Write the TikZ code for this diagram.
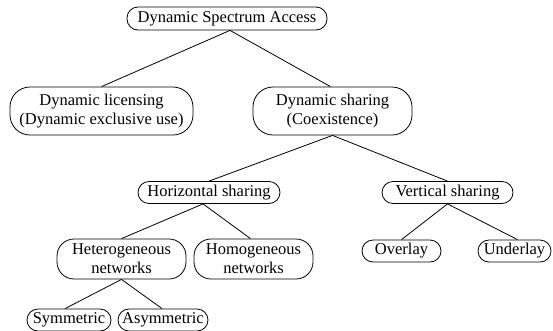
\documentclass[tikz,border=0pt]{standalone}
\usepackage{fontspec}
\setmainfont{Liberation Serif}
\newfontfamily\timesfont{Liberation Serif}
\begin{document}
\begin{tikzpicture}[x=1pt,y=-1pt,
  box/.style={draw,line width=0.8pt,align=center,inner sep=0pt,
    font=\timesfont\fontsize{16.5}{19}\selectfont},
  onebox/.style={box,rounded corners=11pt,minimum height=22pt},
  twobox/.style={box,rounded corners=20pt},
  netbox/.style={box,rounded corners=17pt,minimum height=40pt},
  link/.style={line width=0.8pt}]
\useasboundingbox (0,0) rectangle (553,330);
\node[onebox,minimum width=200pt,minimum height=23pt] (dsa) at (227,18.5) {Dynamic Spectrum Access};
\node[twobox,minimum width=183pt,minimum height=48pt] (lic) at (101.5,111) {Dynamic licensing\\(Dynamic exclusive use)};
\node[twobox,minimum width=159pt,minimum height=48pt] (shar) at (332.5,111) {Dynamic sharing\\(Coexistence)};
\node[onebox,minimum width=142pt] (hor) at (209,192.5) {Horizontal sharing};
\node[onebox,minimum width=131pt] (ver) at (447.5,192.5) {Vertical sharing};
\node[netbox,minimum width=129pt] (het) at (121.5,259) {Heterogeneous\\networks};
\node[netbox,minimum width=119pt] (hom) at (253.5,259) {Homogeneous\\networks};
\node[onebox,minimum width=79pt] (ovl) at (401.5,251) {Overlay};
\node[onebox,minimum width=73pt] (und) at (514.5,251) {Underlay};
\node[onebox,minimum width=84pt] (sym) at (69,320) {Symmetric};
\node[onebox,minimum width=90pt] (asym) at (163,320) {Asymmetric};
\draw[link] ([xshift=3pt]dsa.south) -- (lic.north);
\draw[link] ([xshift=3pt]dsa.south) -- ([xshift=-2pt]shar.north);
\draw[link] (shar.south) -- (hor.north);
\draw[link] (shar.south) -- (ver.north);
\draw[link] ([xshift=-6pt]hor.south) -- (het.north);
\draw[link] ([xshift=-6pt]hor.south) -- ([xshift=-3pt]hom.north);
\draw[link] (ver.south) -- (ovl.north);
\draw[link] (ver.south) -- ([xshift=3pt]und.north);
\draw[link] (het.south) -- ([xshift=-4pt]sym.north);
\draw[link] (het.south) -- ([xshift=-1pt]asym.north);
\end{tikzpicture}
\end{document}
